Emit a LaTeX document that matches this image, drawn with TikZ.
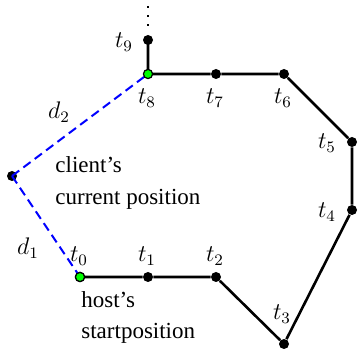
\documentclass[tikz,border=0pt]{standalone}
\usepackage[no-math]{fontspec}
\setmainfont{Liberation Serif}
\begin{document}
\begin{tikzpicture}[x=0.5pt,y=-0.5pt,
  pt/.style={circle,fill=black,inner sep=0pt,minimum size=5pt},
  gpt/.style={circle,fill=green,draw=black,line width=0.6pt,inner sep=0pt,minimum size=4.6pt},
  path/.style={line width=1.3pt},
  dist/.style={blue,line width=1pt,dash pattern=on 4.5pt off 2.6pt},
  lbl/.style={inner sep=0pt,font=\fontsize{12}{14}\selectfont},
  txt/.style={inner sep=0pt,anchor=base west,font=\fontsize{11.5}{13}\selectfont}]
\useasboundingbox (0,0) rectangle (358,351);
% points
\node[gpt] (t0) at (80,277) {};
\node[pt] (t1) at (148,277) {};
\node[pt] (t2) at (216,277) {};
\node[pt] (t3) at (284,344) {};
\node[pt] (t4) at (352,210) {};
\node[pt] (t5) at (352,142) {};
\node[pt] (t6) at (284,74) {};
\node[pt] (t7) at (216,74) {};
\node[pt] (t9) at (148,40) {};
\node[pt] (c) at (12,176) {};
\coordinate (dA) at (148,26);
\coordinate (dB) at (148,4);
% path
\draw[path] (t0) -- (t1) -- (t2) -- (t3) -- (t4) -- (t5) -- (t6) -- (t7) -- (148,74) -- (t9.center);
\draw[line width=1.1pt,dash pattern=on 1.1pt off 3.4pt] (dA) -- (dB);
\draw[dist] (c.center) -- (148,74);
\draw[dist] (c.center) -- (t0.center);
\node[gpt] (t8) at (148,74) {};
\node[gpt] at (t0) {};
% labels
\node[lbl] (l0) at (79,256) {$t_0$};
\node[lbl] (l1) at (147,256) {$t_1$};
\node[lbl] (l2) at (215,256) {$t_2$};
\node[lbl] (l3) at (282,314) {$t_3$};
\node[lbl] (l4) at (327,212) {$t_4$};
\node[lbl] (l5) at (327,143) {$t_5$};
\node[lbl] (l6) at (283,98) {$t_6$};
\node[lbl] (l7) at (215,98) {$t_7$};
\node[lbl] (l8) at (147,98) {$t_8$};
\node[lbl] (l9) at (124,42) {$t_9$};
\node[lbl] (ld1) at (28,248) {$d_1$};
\node[lbl] (ld2) at (59,112) {$d_2$};
% texts
\node[txt] (tc1) at (55,173) {client’s};
\node[txt] (tc2) at (55,205) {current position};
\node[txt] (th1) at (81,308) {host’s};
\node[txt] (th2) at (81,339) {startposition};
\end{tikzpicture}
\end{document}
